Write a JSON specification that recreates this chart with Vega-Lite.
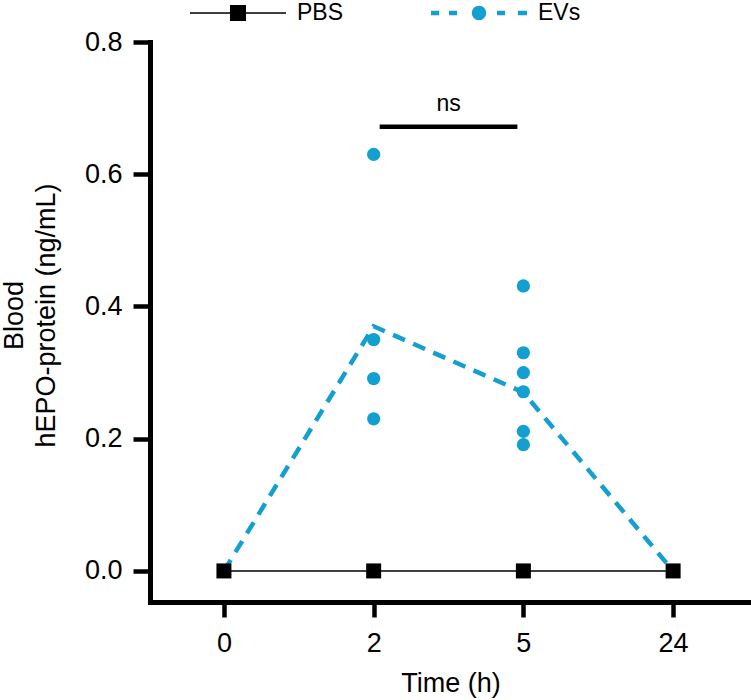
{
  "$schema": "https://vega.github.io/schema/vega-lite/v6.json",
  "width": 601,
  "height": 560,
  "autosize": {"type": "none"},
  "padding": {"left": 150, "top": 42, "right": 0, "bottom": 98},
  "background": "white",
  "config": {
    "view": {"stroke": null},
    "font": "Liberation Sans",
    "axis": {"grid": false}
  },
  "datasets": {
    "points": [
      {"time": "0", "group": "PBS", "value": 0},
      {"time": "2", "group": "PBS", "value": 0},
      {"time": "5", "group": "PBS", "value": 0},
      {"time": "24", "group": "PBS", "value": 0},
      {"time": "2", "group": "EVs", "value": 0.63},
      {"time": "2", "group": "EVs", "value": 0.35},
      {"time": "2", "group": "EVs", "value": 0.291},
      {"time": "2", "group": "EVs", "value": 0.23},
      {"time": "5", "group": "EVs", "value": 0.431},
      {"time": "5", "group": "EVs", "value": 0.33},
      {"time": "5", "group": "EVs", "value": 0.30},
      {"time": "5", "group": "EVs", "value": 0.271},
      {"time": "5", "group": "EVs", "value": 0.211},
      {"time": "5", "group": "EVs", "value": 0.191}
    ],
    "means": [
      {"time": "0", "group": "PBS", "value": 0},
      {"time": "2", "group": "PBS", "value": 0},
      {"time": "5", "group": "PBS", "value": 0},
      {"time": "24", "group": "PBS", "value": 0},
      {"time": "0", "group": "EVs", "value": 0},
      {"time": "2", "group": "EVs", "value": 0.37},
      {"time": "5", "group": "EVs", "value": 0.27},
      {"time": "24", "group": "EVs", "value": 0}
    ],
    "sig": [
      {"time": "2", "end": "5", "value": 0.672, "label": "ns"}
    ]
  },
  "encoding": {
    "x": {
      "field": "time",
      "type": "ordinal",
      "sort": ["0", "2", "5", "24"],
      "scale": {"type": "point", "domain": ["0", "2", "5", "24"], "padding": 0.507, "align": 0.487},
      "axis": {
        "title": "Time (h)",
        "labelAngle": 0,
        "domainColor": "black",
        "domainWidth": 5,
        "domainCap": "square",
        "tickColor": "black",
        "tickWidth": 4.5,
        "tickSize": 15,
        "labelFont": "Liberation Sans",
        "labelFontSize": 27,
        "labelColor": "black",
        "labelPadding": 13,
        "titleFont": "Liberation Sans",
        "titleFontSize": 27,
        "titleFontWeight": "normal",
        "titleColor": "black",
        "titleY": 68,
        "titleBaseline": "top"
      }
    },
    "y": {
      "field": "value",
      "type": "quantitative",
      "scale": {"domain": [-0.047, 0.8], "nice": false, "zero": false},
      "axis": {
        "title": ["Blood", "hEPO-protein (ng/mL)"],
        "values": [0, 0.2, 0.4, 0.6, 0.8],
        "format": ".1f",
        "domainColor": "black",
        "domainWidth": 5,
        "domainCap": "square",
        "tickColor": "black",
        "tickWidth": 4.5,
        "tickSize": 17,
        "labelFont": "Liberation Sans",
        "labelFontSize": 27,
        "labelColor": "black",
        "labelPadding": 11,
        "titleFont": "Liberation Sans",
        "titleFontSize": 27,
        "titleFontWeight": "normal",
        "titleColor": "black",
        "titleAngle": -90,
        "titleX": -136,
        "titleY": 273,
        "titleAlign": "center",
        "titleBaseline": "middle",
        "titleLineHeight": 32
      }
    }
  },
  "layer": [
    {
      "data": {"name": "means"},
      "mark": {"type": "point", "filled": true, "size": 0, "opacity": 1},
      "encoding": {
        "color": {
          "field": "group",
          "type": "nominal",
          "scale": {"domain": ["PBS", "EVs"], "range": ["#000000", "#139FCF"]},
          "legend": {
            "orient": "none",
            "legendX": 40,
            "legendY": -77,
            "direction": "horizontal",
            "title": null,
            "symbolSize": 9216,
            "symbolStrokeWidth": 0,
            "symbolOpacity": 1,
            "labelFont": "Liberation Sans",
            "labelFontSize": 23,
            "labelColor": "black",
            "labelOffset": 11,
            "columnPadding": 87,
            "padding": 0
          }
        },
        "shape": {
          "field": "group",
          "type": "nominal",
          "scale": {
            "domain": ["PBS", "EVs"],
            "range": [
              "M-1,-0.016H1V0.016H-1Z M-0.167,-0.167H0.167V0.167H-0.167Z",
              "M-1,-0.047H-0.83V0.047H-1Z M-0.625,-0.047H-0.458V0.047H-0.625Z M-0.15,0A0.15,0.15 0 1,0 0.15,0A0.15,0.15 0 1,0 -0.15,0Z M0.375,-0.047H0.542V0.047H0.375Z M0.81,-0.047H1V0.047H0.81Z"
            ]
          }
        }
      }
    },
    {
      "data": {"name": "means"},
      "transform": [{"filter": "datum.group === 'EVs'"}],
      "mark": {"type": "line", "color": "#139FCF", "strokeWidth": 4.5, "strokeDash": [13, 9]}
    },
    {
      "data": {"name": "points"},
      "transform": [{"filter": "datum.group === 'EVs'"}],
      "mark": {"type": "point", "shape": "circle", "filled": true, "size": 175, "color": "#139FCF", "opacity": 1}
    },
    {
      "data": {"name": "means"},
      "transform": [{"filter": "datum.group === 'PBS'"}],
      "mark": {"type": "line", "color": "black", "strokeWidth": 1.5}
    },
    {
      "data": {"name": "points"},
      "transform": [{"filter": "datum.group === 'PBS'"}],
      "mark": {"type": "square", "size": 225, "color": "black", "opacity": 1}
    },
    {
      "data": {"name": "sig"},
      "mark": {"type": "rule", "color": "black", "strokeWidth": 4.5, "xOffset": 6, "x2Offset": -6},
      "encoding": {"x2": {"field": "end"}}
    },
    {
      "data": {"name": "sig"},
      "mark": {"type": "text", "fontSize": 23, "font": "Liberation Sans", "color": "black", "dx": 75, "dy": -16, "baseline": "alphabetic", "align": "center"},
      "encoding": {"text": {"field": "label"}}
    }
  ]
}
